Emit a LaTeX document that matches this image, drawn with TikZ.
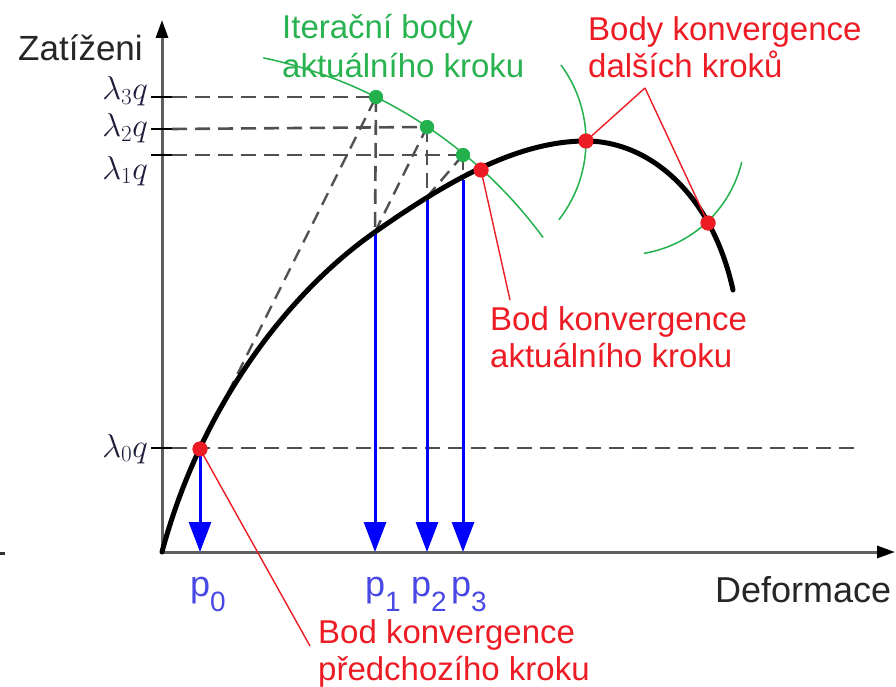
\RequirePackage{fix-cm}
\documentclass[tikz,border=0pt]{standalone}
\usepackage{fontspec}
\setmainfont{Liberation Sans}
\usetikzlibrary{arrows.meta}
\definecolor{grn}{RGB}{34,177,76}
\definecolor{grntxt}{RGB}{40,178,80}
\definecolor{rd}{RGB}{237,28,36}
\definecolor{bl}{RGB}{0,0,255}
\definecolor{bltxt}{RGB}{72,72,228}
\definecolor{axgray}{RGB}{95,95,95}
\definecolor{dgray}{RGB}{80,80,80}
\definecolor{lamc}{RGB}{30,30,60}
\newcommand\plab[1]{p\raisebox{-15pt}{\fontsize{28}{28}\selectfont #1}}
\begin{document}
\begin{tikzpicture}[x=1pt,y=-1pt,
  txt/.style={inner sep=0pt, anchor=base west, font=\fontsize{33}{38}\selectfont},
  lam/.style={inner sep=0pt, anchor=base east, text=lamc, font=\fontsize{33}{33}\selectfont},
  plabel/.style={inner sep=0pt, anchor=base west, text=bltxt, font=\fontsize{36}{36}\selectfont},
  rpt/.style={circle, fill=rd, inner sep=0pt, minimum size=15pt},
  gpt/.style={circle, fill=grn, inner sep=0pt, minimum size=14pt},
  dashgray/.style={dgray, line width=2.6pt, dash pattern=on 15pt off 8pt},
  diagdash/.style={dgray, line width=2.4pt, dash pattern=on 13pt off 8pt},
  barrow/.style={bl, line width=3pt, -{Triangle[width=22pt,length=30pt]}},
  leader/.style={rd, line width=1.4pt},
  garc/.style={grn, line width=1.5pt},
  tick/.style={black, line width=2pt}]
\useasboundingbox (0,0) rectangle (896,687);

% axes
\coordinate (O) at (162,552);
\coordinate (Ytip) at (162,20);
\coordinate (Xtip) at (895,552);
\draw[axgray, line width=3pt, -{Triangle[width=12pt,length=18pt,black]}] (O) -- (Ytip);
\draw[axgray, line width=3pt, -{Triangle[width=12pt,length=18pt,black]}] (O) -- (Xtip);
\draw[black!80, line width=3pt] (0,553) -- (5,553);

% axis texts
\node[inner sep=0pt, anchor=base west, text=black!85, font=\fontsize{35}{35}\selectfont] (zat) at (18,61) {Zatíženi};
\node[inner sep=0pt, anchor=base west, text=black!85, font=\fontsize{36}{36}\selectfont] (def) at (715,602) {Deformace};

% lambda labels and ticks
\node[lam] (l3) at (148,100) {$\lambda_3 q$};
\node[lam] (l2) at (148,137) {$\lambda_2 q$};
\node[lam] (l1) at (148,179) {$\lambda_1 q$};
\node[lam] (l0) at (148,457) {$\lambda_0 q$};
\coordinate (t3) at (151,97);
\coordinate (t2) at (151,129);
\coordinate (t1) at (151,155);
\coordinate (t0) at (151,448);
\draw[tick] (t3) -- ++(21,0);
\draw[tick] (t2) -- ++(21,0);
\draw[tick] (t1) -- ++(21,0);
\draw[tick] (t0) -- ++(21,0);

% points on the curve (coordinates)
\coordinate (c1) at (375,232);
\coordinate (c2) at (427,197);
\coordinate (c3) at (463,180);
\coordinate (b0) at (200,552);
\coordinate (b1) at (375,552);
\coordinate (b2) at (427,552);
\coordinate (b3) at (463,552);
\coordinate (e0) at (855,448);
\coordinate (cend) at (733,290);

% green iteration points and red convergence points
\node[gpt] (G3) at (376,97) {};
\node[gpt] (G2) at (427,127) {};
\node[gpt] (G1) at (463,155) {};
\node[rpt] (P0) at (200,449) {};
\node[rpt] (Ps) at (481,170) {};
\node[rpt] (P4) at (586,141) {};
\node[rpt] (P5) at (708,223) {};

% dashed horizontal lines
\draw[dashgray] ([xshift=21pt]t3) -- (G3.center);
\draw[dashgray] ([xshift=21pt]t2) -- (G2.center);
\draw[dashgray] ([xshift=21pt]t1) -- (G1.center);
\draw[dashgray] ([xshift=21pt]t0) -- (e0);

% dashed iteration construction
\draw[diagdash] (P0.center) -- (G3.center);
\draw[dashgray] (G3.center) -- (c1);
\draw[diagdash] (c1) -- (G2.center);
\draw[dashgray] (G2.center) -- (c2);
\draw[diagdash] (c2) -- (G1.center);
\draw[dashgray] (G1.center) -- (c3);

% blue arrows
\draw[barrow] (P0.center) -- (b0);
\draw[barrow] (c1) -- (b1);
\draw[barrow] (c2) -- (b2);
\draw[barrow] (c3) -- (b3);

% green arcs
\draw[garc] plot[domain=-78.2:-36.4, samples=60] ({168+466*cos(\x)},{514+466*sin(\x)});
\draw[garc] plot[domain=-36.4:38, samples=40] ({458+128*cos(\x)},{141+128*sin(\x)});
\draw[garc] plot[domain=13.3:80.5, samples=40] ({624+121*cos(\x)},{134+121*sin(\x)});

% load-deformation curve
\draw[black, line width=5pt, line cap=round]
  (O) .. controls (200,410) and (285,295) .. (c1)
      .. controls (445,183) and (516,141) .. (P4.center)
      .. controls (646,141) and (711,190) .. (cend);

% red leaders
\coordinate (L0) at (310,646);
\coordinate (L1) at (510,300);
\coordinate (L2) at (645,88);
\draw[leader] (P0.center) -- (L0);
\draw[leader] (Ps.center) -- (L1);
\draw[leader] (L2) -- (P4.center);
\draw[leader] (L2) -- (P5.center);

% redraw points on top
\node[gpt] at (G3) {};
\node[gpt] at (G2) {};
\node[gpt] at (G1) {};
\node[rpt] at (P0) {};
\node[rpt] at (Ps) {};
\node[rpt] at (P4) {};
\node[rpt] at (P5) {};

% p labels
\node[plabel] (p0) at (190,596) {\plab{0}};
\node[plabel] (p1) at (365,596) {\plab{1}};
\node[plabel] (p2) at (411,596) {\plab{2}};
\node[plabel] (p3) at (451,596) {\plab{3}};

% annotation texts
\node[txt, text=grntxt] (gA) at (282,39) {Iterační body};
\node[txt, text=grntxt] (gB) at (282,78) {aktuálního kroku};
\node[txt, text=rd] (rA) at (588,41) {Body konvergence};
\node[txt, text=rd] (rB) at (588,78) {dalších kroků};
\node[txt, text=rd] (mA) at (490,330) {Bod konvergence};
\node[txt, text=rd] (mB) at (490,367) {aktuálního kroku};
\node[txt, text=rd] (bA) at (318,643) {Bod konvergence};
\node[txt, text=rd] (bB) at (318,680) {předchozího kroku};
\end{tikzpicture}
\end{document}
